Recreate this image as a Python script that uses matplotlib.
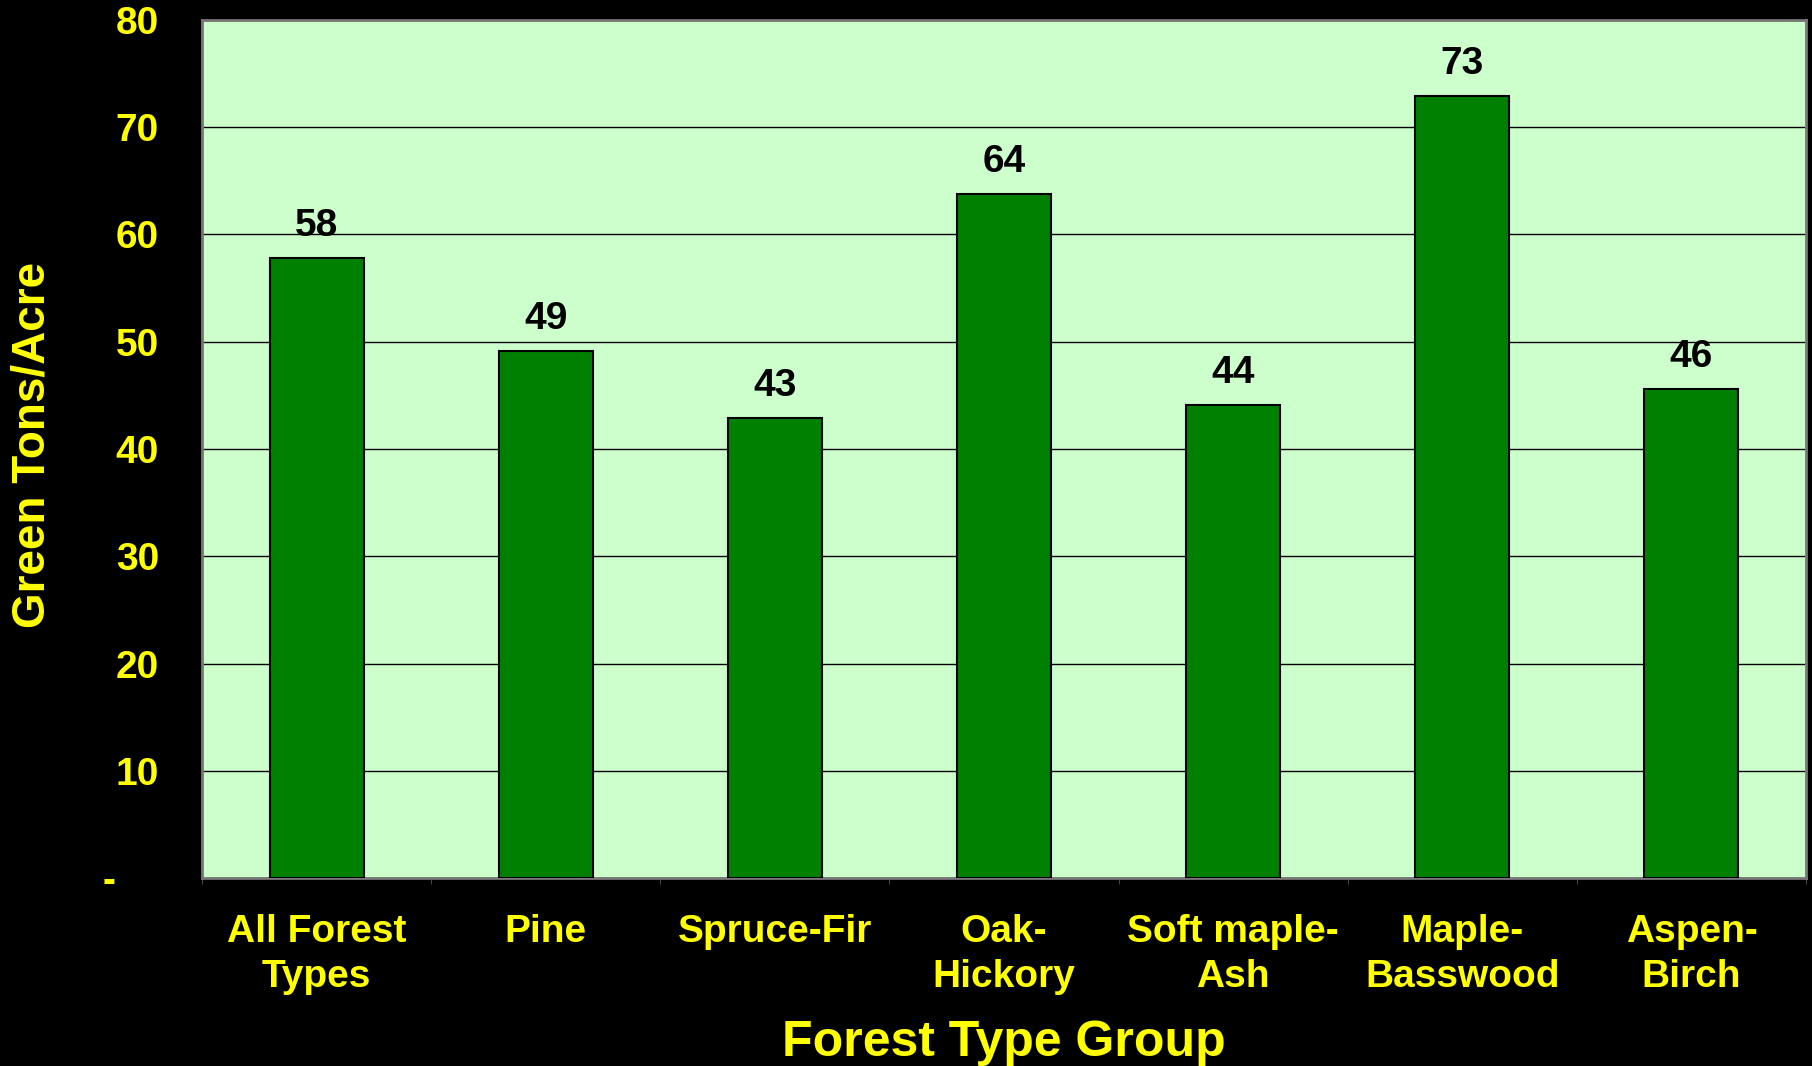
import numpy as np
import matplotlib.pyplot as plt

# 数据：各森林类型组每英亩生物量（绿吨）
categories = ["All Forest\nTypes", "Pine", "Spruce-Fir", "Oak-\nHickory",
              "Soft maple-\nAsh", "Maple-\nBasswood", "Aspen-\nBirch"]
values = [57.8, 49.1, 42.9, 63.8, 44.1, 72.9, 45.6]
y_ticks = [0, 10, 20, 30, 40, 50, 60, 70, 80]
# 会计格式：0 显示为 "-"，右侧留空
y_tick_labels = ["-\u00a0\u00a0\u00a0\u00a0", "10", "20", "30", "40", "50", "60", "70", "80"]

plt.rcParams["font.family"] = ["Liberation Sans", "DejaVu Sans"]
plt.rcParams["font.weight"] = "bold"

fig = plt.figure(figsize=(18.12, 10.66), dpi=100, facecolor="black")
ax = fig.add_axes([202 / 1812, 1 - 878 / 1066, (1806 - 202) / 1812, (878 - 20) / 1066])
ax.set_facecolor("#CCFFCC")

x = np.arange(len(categories))
bars = ax.bar(x, values, width=0.41, color="#008000", edgecolor="black", linewidth=1.5, zorder=3)

for xi, v in zip(x, values):
    ax.text(xi, v + 1.3, f"{v:.0f}", ha="center", va="bottom",
            fontsize=28, fontweight="bold", color="black")

ax.set_xlim(-0.5, len(categories) - 0.5)
ax.set_ylim(0, 80)
ax.set_yticks(y_ticks)
ax.set_yticklabels(y_tick_labels)
ax.yaxis.grid(True, color="black", linewidth=1.0, zorder=1)
ax.set_axisbelow(True)

ax.set_xticks(x)
ax.set_xticklabels(categories, linespacing=1.3)
ax.tick_params(axis="x", length=0, pad=26, labelsize=28, labelcolor="#FFFF00")
ax.tick_params(axis="y", length=0, pad=31, labelsize=28, labelcolor="#FFFF00")
for lab in ax.get_xticklabels() + ax.get_yticklabels():
    lab.set_fontweight("bold")

# 类别分隔的小刻度
ax.set_xticks(np.arange(len(categories) + 1) - 0.5, minor=True)
ax.tick_params(axis="x", which="minor", length=4, color="#555555")

for side in ["left", "top", "right", "bottom"]:
    ax.spines[side].set_color("#777777")
    ax.spines[side].set_linewidth(2)

fig.text(1004 / 1812, 1 - 1043 / 1066, "Forest Type Group", ha="center", va="center",
         fontsize=36, fontweight="bold", color="#FFFF00")
fig.text(33 / 1812, 1 - 445 / 1066, "Green Tons/Acre", ha="center", va="center",
         rotation=90, fontsize=33, fontweight="bold", color="#FFFF00")

plt.savefig("out.png", dpi=100, facecolor="black")
